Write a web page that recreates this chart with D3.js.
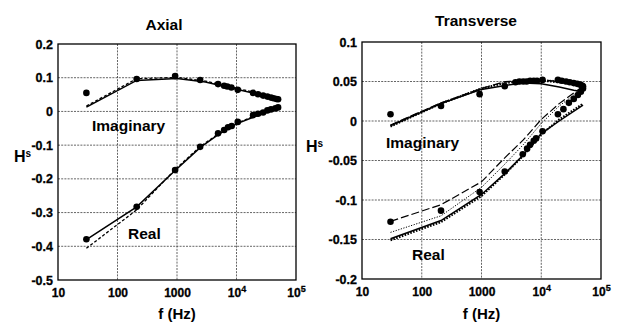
<!DOCTYPE html>
<html lang="en">
<head>
  <meta charset="UTF-8">
  <title>Axial / Transverse H^s vs frequency</title>
  <style>
    body { margin: 0; padding: 0; background: #fff; }
    svg { display: block; font-family: 'Liberation Sans', Arial, sans-serif; font-weight: bold; }
    svg text { font-weight: bold; }
    .grid line { stroke: #222; stroke-width: 0.7px; stroke-dasharray: 2,1.2; }
    .frame { fill: none; stroke: #000; stroke-width: 1.3px; }
    .tick text { fill: #000; stroke: #000; stroke-width: 0.3px; font-weight: bold; font-family: 'Liberation Sans', Arial, sans-serif; }
    .fit { fill: none; stroke: #000; }
  </style>
</head>
<body>
  <svg width="623" height="326"></svg>

  <script src="https://d3js.org/d3.v7.min.js"></script>
  <script>
    const FONT = "'Liberation Sans', Arial, sans-serif";

    // ticks
    const xTicks = [10, 100, 1000, 1e4, 1e5];
    const axialYTicks = [0.2, 0.1, 0, -0.1, -0.2, -0.3, -0.4, -0.5];
    const transYTicks = [0.1, 0.05, 0, -0.05, -0.1, -0.15, -0.2];

    // Axial: measured points [f, Hs]
    const axialImagPts = [[30, 0.055], [210, 0.096], [930, 0.105], [2450, 0.093], [4900, 0.081],
      [6200, 0.076], [7000, 0.074], [8200, 0.071], [10500, 0.064], [19000, 0.055], [23000, 0.051],
      [28000, 0.047], [33000, 0.044], [38000, 0.041], [42000, 0.039], [47000, 0.037], [50000, 0.036]];
    const axialRealPts = [[30, -0.379], [210, -0.283], [930, -0.174], [2450, -0.105], [4900, -0.065],
      [6200, -0.055], [7200, -0.047], [8300, -0.043], [10500, -0.031], [19000, -0.011], [23000, -0.007],
      [28000, -0.003], [33000, 0.003], [38000, 0.006], [45000, 0.009], [50000, 0.012]];
    // Axial: model curves
    const axialImagSolid = [[30, 0.013], [210, 0.092], [1000, 0.098], [3000, 0.087], [10000, 0.066], [30000, 0.046], [50000, 0.035]];
    const axialImagDash = [[30, 0.016], [210, 0.097], [1000, 0.101], [3000, 0.09], [10000, 0.069], [30000, 0.049], [50000, 0.037]];
    const axialRealSolid = [[30, -0.38], [210, -0.283], [930, -0.175], [2500, -0.106], [5000, -0.068], [10000, -0.037], [20000, -0.016], [50000, 0.009]];
    const axialRealDash = [[30, -0.406], [210, -0.292], [930, -0.172], [2500, -0.103], [5000, -0.066], [10000, -0.035], [20000, -0.014], [50000, 0.012]];

    // Transverse: measured points
    const transImagPts = [[30, 0.0085], [210, 0.019], [930, 0.034], [2450, 0.044], [3700, 0.049], [4300, 0.05],
      [5000, 0.05], [5700, 0.05], [6500, 0.051], [7500, 0.051], [8500, 0.051], [10500, 0.052], [19000, 0.052],
      [22000, 0.051], [26000, 0.05], [30000, 0.049], [35000, 0.048], [40000, 0.047], [45000, 0.046], [48000, 0.045], [50000, 0.044]];
    const transRealPts = [[30, -0.1275], [210, -0.1135], [930, -0.09], [2450, -0.064], [4900, -0.042], [5800, -0.035],
      [6500, -0.03], [7500, -0.025], [8200, -0.022], [10500, -0.013], [19000, 0.0085], [23500, 0.015], [29000, 0.023],
      [35000, 0.028], [41000, 0.033], [46000, 0.037], [50000, 0.041]];
    // Transverse: model curves (four models)
    const transImagSolid = [[30, -0.006], [210, 0.022], [1000, 0.04], [2500, 0.045], [5000, 0.048], [10000, 0.047], [20000, 0.043], [35000, 0.039], [50000, 0.037]];
    const transImagThick = [[30, -0.007], [210, 0.022], [1000, 0.041], [2500, 0.048], [5000, 0.051], [10000, 0.051], [20000, 0.049], [50000, 0.045]];
    const transImagDot = [[30, -0.005], [210, 0.023], [1000, 0.042], [2500, 0.049], [5000, 0.052], [10000, 0.052], [20000, 0.051], [50000, 0.047]];
    const transImagDash = [[30, -0.005], [210, 0.023], [1000, 0.041], [2500, 0.05], [5000, 0.051], [10000, 0.052], [20000, 0.05], [50000, 0.046]];
    const transRealSolid = [[30, -0.149], [210, -0.126], [1000, -0.093], [2500, -0.066], [5000, -0.043], [10000, -0.016], [20000, 0.0], [50000, 0.02]];
    const transRealThick = [[30, -0.151], [210, -0.128], [1000, -0.095], [2500, -0.067], [5000, -0.044], [10000, -0.017], [20000, 0.002], [50000, 0.022]];
    const transRealDot = [[30, -0.141], [210, -0.12], [1000, -0.084], [2500, -0.054], [5000, -0.03], [10000, -0.003], [20000, 0.019], [50000, 0.042]];
    const transRealDash = [[30, -0.127], [210, -0.106], [1000, -0.077], [2500, -0.046], [5000, -0.024], [10000, 0.002], [20000, 0.022], [50000, 0.044]];

    const styles = {
      solid: { w: 1.5, dash: null },
      dash: { w: 1.3, dash: "3,2" },
      thick: { w: 2, dash: "1.6,1.4" },
      dot: { w: 1, dash: "1.2,1.5" },
      longdash: { w: 1.2, dash: "8,3" }
    };

    const svg = d3.select("svg");

    function drawPanel(p) {
      const g = svg.append("g");
      const x = d3.scaleLog().domain([10, 1e5]).range([p.left, p.right]);
      const y = d3.scaleLinear().domain([p.yTicks[p.yTicks.length - 1], p.yTicks[0]]).range([p.bottom, p.top]);

      // grid
      const grid = g.append("g").attr("class", "grid");
      grid.selectAll(".gx").data(xTicks.slice(1, -1)).enter().append("line")
        .attr("x1", d => x(d)).attr("x2", d => x(d)).attr("y1", p.top).attr("y2", p.bottom);
      grid.selectAll(".gy").data(p.yTicks.slice(1, -1)).enter().append("line")
        .attr("x1", p.left).attr("x2", p.right).attr("y1", d => y(d)).attr("y2", d => y(d));

      // axes
      const xAxis = g.append("g").attr("transform", `translate(0,${p.bottom})`)
        .call(d3.axisBottom(x).tickValues(xTicks).tickSize(0).tickPadding(8).tickFormat(d => d))
        .attr("font-family", FONT).attr("font-size", 12);
      xAxis.select(".domain").remove();
      xAxis.selectAll("text")
        .style("font-weight", "bold")
        .each(function(d) {
          if (d >= 1e4) {
            const t = d3.select(this).text("10");
            t.append("tspan").attr("dy", "-0.45em").attr("font-size", 9).text(Math.round(Math.log10(d)));
          }
        });

      const yAxis = g.append("g").attr("transform", `translate(${p.left},0)`)
        .call(d3.axisLeft(y).tickValues(p.yTicks).tickSize(0).tickPadding(5).tickFormat(d => String(+d.toFixed(2))))
        .attr("font-family", FONT).attr("font-size", 12.5);
      yAxis.select(".domain").remove();
      yAxis.selectAll("text").style("font-weight", "bold");

      g.append("rect").attr("class", "frame")
        .attr("x", p.left).attr("y", p.top)
        .attr("width", p.right - p.left).attr("height", p.bottom - p.top);

      // model curves
      const line = d3.line().x(d => x(d[0])).y(d => y(d[1]));
      p.curves.forEach(c => {
        const s = styles[c.style];
        g.append("path").attr("class", "fit")
          .attr("d", line(c.data))
          .attr("stroke-width", s.w)
          .attr("stroke-dasharray", s.dash);
      });

      // measured points
      p.points.forEach(pts => {
        g.append("g").selectAll("circle").data(pts).enter().append("circle")
          .attr("cx", d => x(d[0])).attr("cy", d => y(d[1])).attr("r", 3.3).attr("fill", "#000");
      });

      // texts
      g.append("text").attr("x", p.titleX).attr("y", p.titleY).attr("text-anchor", "middle")
        .attr("font-size", 15.5).text(p.title);
      g.append("text").attr("x", (p.left + p.right) / 2).attr("y", 319).attr("text-anchor", "middle")
        .attr("font-size", 15).text("f (Hz)");
      const h = g.append("text").attr("x", p.hX).attr("y", p.hY).attr("font-size", 16).text("H");
      h.append("tspan").attr("dy", "-0.5em").attr("font-size", 10).text("s");
      p.labels.forEach(l => {
        g.append("text").attr("x", l.x).attr("y", l.y).attr("font-size", 15.5).text(l.text);
      });
    }

    drawPanel({
      left: 58, right: 296, top: 44, bottom: 280,
      yTicks: axialYTicks,
      title: "Axial", titleX: 164, titleY: 30,
      hX: 14, hY: 162,
      labels: [{ text: "Imaginary", x: 92, y: 131 }, { text: "Real", x: 128, y: 239 }],
      curves: [
        { data: axialImagDash, style: "dash" }, { data: axialImagSolid, style: "solid" },
        { data: axialRealDash, style: "dash" }, { data: axialRealSolid, style: "solid" }
      ],
      points: [axialImagPts, axialRealPts]
    });

    drawPanel({
      left: 362, right: 601, top: 42, bottom: 279,
      yTicks: transYTicks,
      title: "Transverse", titleX: 476, titleY: 26,
      hX: 306, hY: 152,
      labels: [{ text: "Imaginary", x: 386, y: 148 }, { text: "Real", x: 412, y: 260 }],
      curves: [
        { data: transImagThick, style: "thick" }, { data: transImagDot, style: "dot" },
        { data: transImagDash, style: "longdash" }, { data: transImagSolid, style: "solid" },
        { data: transRealThick, style: "thick" }, { data: transRealDot, style: "dot" },
        { data: transRealDash, style: "longdash" }, { data: transRealSolid, style: "solid" }
      ],
      points: [transImagPts, transRealPts]
    });
  </script>
</body>
</html>
